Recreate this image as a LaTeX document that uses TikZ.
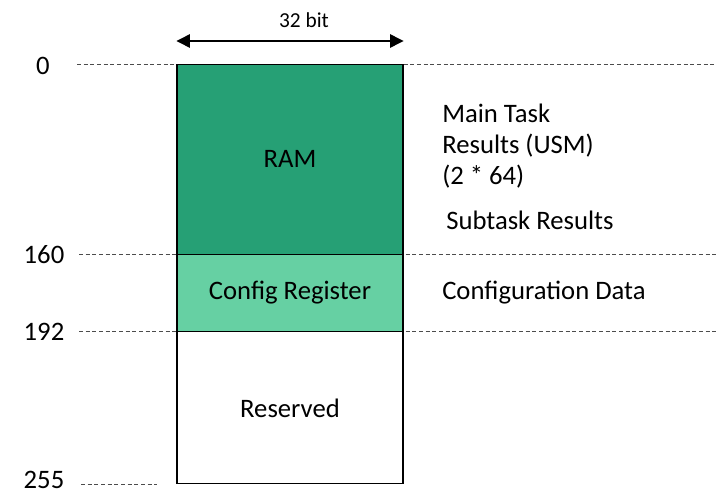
\documentclass[tikz,border=0pt]{standalone}
\usepackage{fontspec}
\setmainfont{Carlito}
\usetikzlibrary{arrows.meta}
\definecolor{ramgreen}{RGB}{38,160,117}
\definecolor{cfggreen}{RGB}{102,208,163}
\tikzset{
  px/.style={x=0.75pt,y=-0.75pt},
  memblock/.style={draw=black,line width=0.8pt,minimum width={226*0.75pt},inner sep=0pt,anchor=north},
  guide/.style={draw=black!70,dashed,line width=0.5pt,dash pattern=on 3pt off 2pt},
  lbl/.style={font=\fontsize{20}{23.25}\selectfont,inner sep=0pt},
}
\begin{document}
\begin{tikzpicture}[px]
\useasboundingbox (0,0) rectangle (716,496);
% guides
\coordinate (g0a) at (77,64);   \coordinate (g0b) at (716,64);
\coordinate (g1a) at (79,254);  \coordinate (g1b) at (716,254);
\coordinate (g2a) at (79,331);  \coordinate (g2b) at (716,331);
\coordinate (g3a) at (81,484);  \coordinate (g3b) at (157,484);
\draw[guide] (g0a) -- (g0b);
\draw[guide] (g1a) -- (g1b);
\draw[guide] (g2a) -- (g2b);
\draw[guide] (g3a) -- (g3b);
% blocks
\node[memblock,fill=ramgreen,minimum height={190*0.75pt}] (ram) at (290,64) {};
\node[memblock,fill=cfggreen,minimum height={77*0.75pt}] (cfg) at (290,254) {};
\node[memblock,fill=white,minimum height={152*0.75pt}] (res) at (290,331) {};
\node[lbl] (ramt) at (290,159) {RAM};
\node[lbl] (cfgt) at (290,293) {Config Register};
\node[lbl] (rest) at (290,408) {Reserved};
% width arrow
\draw[{Triangle[length=10pt,width=10pt]}-{Triangle[length=10pt,width=10pt]},line width=1pt] (ram.north west |- 0,41) coordinate (aw) -- (ram.north east |- 0,41) coordinate (ae);
\node[lbl,font=\fontsize{16}{19}\selectfont] (bits) at (304,20) {32 bit};
% addresses
\node[lbl] (a0) at (43,66) {0};
\node[lbl] (a160) at (44,255) {160};
\node[lbl] (a192) at (44,332) {192};
\node[lbl] (a255) at (44,480) {255};
% descriptions
\node[lbl,anchor=west,align=left] (main) at (442,146) {Main Task\\Results (USM)\\(2 * 64)};
\node[lbl,anchor=west] (sub) at (446,220) {Subtask Results};
\node[lbl,anchor=west] (conf) at (442,293) {Configuration Data};
\end{tikzpicture}
\end{document}
